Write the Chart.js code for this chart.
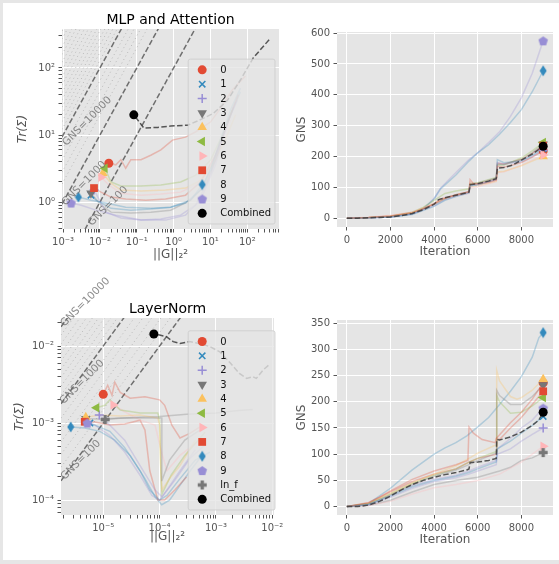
<!DOCTYPE html>
<html>
<head>
<meta charset="utf-8">
<title>GNS per layer</title>
<script src="https://cdn.jsdelivr.net/npm/chart.js@4.4.1/dist/chart.umd.min.js"></script>
<style>
  html, body { margin: 0; padding: 0; background: #e6e6e6; width: 559px; height: 564px; overflow: hidden; }
  #sheet { position: absolute; left: 3px; top: 3px; width: 556px; height: 557px; background: #fff; }
  canvas { position: absolute; left: 0; top: 0; }
</style>
</head>
<body>
<div id="sheet"></div>
<canvas id="mlpCurve" width="559" height="564"></canvas>
<canvas id="mlpIter" width="559" height="564"></canvas>
<canvas id="lnCurve" width="559" height="564"></canvas>
<canvas id="lnIter" width="559" height="564"></canvas>
<script>
Chart.defaults.font.family = "'DejaVu Sans', sans-serif";

const FIG_W = 559, FIG_H = 564;
const palette = ['#E24A33', '#348ABD', '#988ED5', '#777777', '#FBC15E', '#8EBA42', '#FFB5B8'];
const layerNames = ['0', '1', '2', '3', '4', '5', '6', '7', '8', '9'];
const layerMarkers = ['o', 'x', '+', 'v', '^', '<', '>', 's', 'd', 'p'];

// ---- MLP and Attention: Tr(Sigma) vs ||G||^2, one path per layer, last point = end of training
const mlpPaths = [
  [[89,76],[39,47],[18.6,25],[10,15.6],[3.9,11.1],[2.1,9.3],[0.93,8.4],[0.45,6.0],[0.24,5.0],[0.13,4.3],[0.069,4.3],[0.05,3.2],[0.037,4.3],[0.027,3.6],[0.0174,3.8]],
  [[65,50],[35,23.6],[18.6,8.4],[10,3.0],[5.4,1.52],[2.1,0.97],[0.83,0.84],[0.24,0.79],[0.069,0.76],[0.020,0.81],[0.0078,1.07],[0.0057,1.27]],
  [[54,33],[31,16.7],[16.4,6.0],[8.8,2.1],[3.9,0.90],[1.55,0.64],[0.45,0.56],[0.13,0.54],[0.037,0.58],[0.0145,0.71],[0.0069,1.52]],
  [[42,26],[25,11.8],[13.7,4.2],[7.3,1.8],[2.9,1.07],[0.83,0.76],[0.24,0.71],[0.069,0.69],[0.020,0.71],[0.0107,0.90],[0.0057,1.36]],
  [[48,20],[25,8.4],[11.3,3.6],[5.4,2.1],[2.1,1.62],[0.61,1.52],[0.13,1.46],[0.037,1.52],[0.020,1.9],[0.012,2.7]],
  [[39,23.6],[21,10],[10,4.2],[3.9,2.5],[1.55,2.0],[0.45,1.8],[0.13,1.74],[0.037,1.74],[0.020,2.0],[0.0136,3.2]],
  [[35,16.7],[18.6,7.1],[8.8,3.0],[3.9,1.8],[1.55,1.41],[0.45,1.32],[0.13,1.27],[0.037,1.36],[0.0175,1.8],[0.0107,2.35]],
  [[57,40],[31,16.7],[13.7,5.0],[5.4,2.0],[2.1,1.27],[0.61,1.11],[0.175,1.07],[0.050,1.11],[0.020,1.19],[0.0107,1.41],[0.0069,1.62]],
  [[65,44],[35,20],[16.4,6.4],[7.3,2.1],[2.9,1.07],[0.83,0.84],[0.24,0.81],[0.050,0.84],[0.0145,0.97],[0.0057,1.07],[0.0026,1.19]],
  [[48,31],[25,11.8],[13.7,3.6],[5.4,1.07],[2.1,0.64],[0.61,0.54],[0.13,0.54],[0.027,0.64],[0.0078,0.76],[0.0031,0.90],[0.00165,0.97]]
];
const mlpCombinedPath = [[390,263],[145,141],[65,66],[29,33],[12,21],[5.4,17],[2.4,14],[0.83,13.6],[0.37,13],[0.155,12.7],[0.13,14.5],[0.083,20]];

// ---- MLP and Attention: GNS vs iteration
const mlpGns = [
  [[0,0],[1000,2],[2000,7],[3000,18],[3500,30],[4000,46],[4300,62],[5000,75],[5600,85],[5650,125],[5800,112],[6000,110],[6500,116],[6850,124],[6900,168],[7200,165],[8000,180],[8500,198],[9000,218]],
  [[0,0],[1000,1],[2000,4],[3000,12],[4000,38],[4500,58],[5000,70],[5600,82],[5650,105],[6000,108],[6850,126],[6900,190],[7200,180],[8000,186],[8500,204],[9000,225]],
  [[0,0],[1000,1],[2000,4],[3000,13],[4000,40],[4500,60],[5000,72],[5600,83],[5650,104],[6000,108],[6850,124],[6900,180],[7200,176],[8000,183],[8500,200],[9000,220]],
  [[0,0],[1000,1],[2000,5],[3000,15],[4000,44],[4500,64],[5000,76],[5600,86],[5650,110],[6000,113],[6850,130],[6900,175],[7200,174],[8000,190],[8500,212],[9000,240]],
  [[0,0],[1000,2],[2000,6],[3000,17],[4000,47],[4500,63],[5000,74],[5600,84],[5650,102],[6000,106],[6850,120],[6900,150],[7200,152],[8000,170],[8500,185],[9000,200]],
  [[0,0],[1000,2],[2000,6],[3000,19],[3500,35],[4000,58],[4500,80],[5000,88],[5600,95],[5650,112],[6000,115],[6850,132],[6900,172],[7200,172],[8000,195],[8500,218],[9000,245]],
  [[0,0],[1000,3],[2000,9],[3000,20],[4000,48],[4500,62],[5000,72],[5600,80],[5650,98],[6000,102],[6850,118],[6900,148],[7200,150],[8000,172],[8500,188],[9000,205]],
  [[0,0],[1000,2],[2000,6],[3000,17],[4000,46],[4500,64],[5000,76],[5600,86],[5650,112],[6000,112],[6850,128],[6900,178],[7200,176],[8000,190],[8500,210],[9000,235]],
  [[0,0],[1000,1],[2000,4],[3000,14],[3500,30],[4000,62],[4300,95],[5000,140],[5600,185],[6000,212],[6500,238],[7000,272],[7500,310],[8000,352],[8500,410],[9000,478]],
  [[0,0],[1000,1],[2000,4],[3000,14],[3500,30],[4000,64],[4300,98],[5000,148],[5600,190],[6000,212],[6500,245],[7000,280],[7500,330],[8000,390],[8500,470],[9000,575]]
];
const mlpGnsCombined = [[0,0],[500,0],[1000,1],[1500,2],[2000,4],[2500,8],[3000,15],[3500,27],[4000,45],[4200,60],[4500,66],[5000,74],[5500,82],[5600,85],[5650,108],[6000,112],[6500,120],[6850,128],[6900,162],[7200,164],[7600,172],[8000,188],[8500,208],[9000,233]];

// ---- LayerNorm: Tr(Sigma) vs ||G||^2
const lnPaths = [
  [[5.2e-4,8.9e-4],[3.5e-4,7.4e-4],[2.3e-4,6.4e-4],[1.65e-4,9.4e-4],[1.23e-4,1.7e-3],[1.0e-4,2.0e-3],[5.5e-5,2.2e-3],[3.0e-5,2.1e-3],[2.0e-5,2.5e-3],[1.6e-5,3.4e-3],[1.43e-5,2.3e-3],[1.2e-5,3.1e-3],[1.0e-5,2.36e-3]],
  [[7.8e-4,4.2e-4],[4.3e-4,3.3e-4],[2.3e-4,1.9e-4],[1.35e-4,1.15e-4],[1.0e-4,1.0e-4],[6.7e-5,1.35e-4],[4.5e-5,2.4e-4],[2.4e-5,4.8e-4],[1.31e-5,7.8e-4],[7.1e-6,9.4e-4],[5.8e-6,1.0e-3]],
  [[6.4e-4,5.2e-4],[3.5e-4,3.5e-4],[1.86e-4,1.8e-4],[1.1e-4,1.1e-4],[8.3e-5,1.35e-4],[4.5e-5,2.8e-4],[2.4e-5,6.0e-4],[1.31e-5,9.4e-4],[8.5e-6,1.27e-3]],
  [[5.2e-4,8.1e-4],[2.8e-4,6.0e-4],[1.5e-4,3.3e-4],[1.1e-4,1.8e-4],[1.1e-4,8.1e-4],[1.09e-4,1.16e-3],[4.5e-5,1.16e-3],[2.0e-5,1.16e-3],[8.7e-6,1.13e-3],[4.9e-6,1.14e-3]],
  [[4.3e-4,6.0e-4],[2.3e-4,2.8e-4],[1.5e-4,1.9e-4],[1.1e-4,1.35e-4],[1.05e-4,2.4e-4],[1.0e-4,9.4e-4],[9.3e-5,1.16e-3],[4.5e-5,1.27e-3],[2.0e-5,1.23e-3],[8.7e-6,1.27e-3],[4.9e-6,1.19e-3]],
  [[6.4e-4,7.6e-4],[2.8e-4,3.8e-4],[1.6e-4,2.1e-4],[1.1e-4,1.2e-4],[1.05e-4,2.4e-4],[1.0e-4,1.09e-3],[9.3e-5,1.35e-3],[4.5e-5,1.35e-3],[2.0e-5,1.48e-3],[1.31e-5,2.0e-3],[1.07e-5,1.7e-3],[7.6e-6,1.58e-3]],
  [[5.2e-4,6.0e-4],[2.3e-4,3.8e-4],[1.35e-4,2.4e-4],[1.1e-4,4.0e-4],[8.3e-5,9.4e-4],[4.5e-5,1.09e-3],[2.4e-5,1.4e-3],[1.6e-5,1.7e-3],[1.5e-5,1.72e-3]],
  [[3.0e-4,2.0e-4],[1.86e-4,1.35e-4],[1.23e-4,1.0e-4],[9.3e-5,1.0e-4],[6.7e-5,2.4e-4],[5.5e-5,8.1e-4],[4.5e-5,1.09e-3],[2.4e-5,9.7e-4],[1.31e-5,9.4e-4],[7.1e-6,1.03e-3],[4.7e-6,1.04e-3]],
  [[5.2e-4,3.5e-4],[3.5e-4,2.4e-4],[2.3e-4,1.55e-4],[1.5e-4,1.0e-4],[1.09e-4,8.7e-5],[8.3e-5,1.1e-4],[5.5e-5,1.9e-4],[3.0e-5,3.8e-4],[1.6e-5,6.0e-4],[8.7e-6,7.8e-4],[4.7e-6,8.6e-4],[2.65e-6,8.9e-4]],
  [[4.3e-4,4.5e-4],[2.3e-4,2.4e-4],[1.35e-4,1.35e-4],[1.0e-4,1.0e-4],[7.3e-5,1.15e-4],[4.5e-5,2.1e-4],[2.4e-5,4.2e-4],[1.31e-5,6.9e-4],[7.1e-6,9.4e-4],[5.2e-6,1.0e-3]]
];
const lnFinalPath = [[4.5e-3,1.5e-3],[2.5e-3,1.45e-3],[1.0e-3,1.35e-3],[3.0e-4,1.3e-3],[1.0e-4,1.22e-3],[5.0e-5,1.2e-3],[2.0e-5,1.15e-3],[1.08e-5,1.11e-3]];
const lnCombinedPath = [[8.5e-3,5.6e-3],[6.9e-3,4.9e-3],[5.2e-3,3.8e-3],[4.5e-3,4.0e-3],[3.5e-3,3.8e-3],[2.6e-3,4.4e-3],[1.8e-3,6.0e-3],[1.17e-3,8.4e-3],[7.8e-4,9.8e-3],[5.1e-4,1.08e-2],[3.4e-4,1.14e-2],[2.3e-4,1.08e-2],[1.74e-4,1.14e-2],[1.32e-4,1.32e-2],[1.0e-4,1.39e-2],[7.9e-5,1.43e-2]];

// ---- LayerNorm: GNS vs iteration
const lnGns = [
  [[0,0],[1000,8],[1500,18],[2000,30],[3000,52],[4000,68],[5000,80],[5550,88],[5600,152],[5800,140],[6200,128],[6800,122],[6850,130],[7500,160],[8000,180],[8500,205],[9000,236]],
  [[0,0],[1000,4],[2000,20],[3000,38],[4000,50],[5000,58],[5600,65],[6000,72],[6850,85],[6900,110],[7500,125],[8000,140],[8500,155],[9000,172]],
  [[0,0],[1000,3],[2000,18],[3000,35],[4000,48],[5000,55],[5600,62],[6000,68],[6850,80],[6900,100],[7500,110],[8000,125],[8500,138],[9000,150]],
  [[0,0],[1000,5],[2000,22],[3000,42],[4000,58],[5000,70],[5600,80],[6000,88],[6850,102],[6870,222],[7000,212],[7500,195],[8000,195],[8500,210],[9000,232]],
  [[0,0],[1000,6],[2000,25],[3000,45],[4000,62],[5000,78],[5600,92],[6000,102],[6850,118],[6870,260],[7000,240],[7500,210],[7800,205],[8000,208],[8500,222],[9000,243]],
  [[0,0],[1000,6],[2000,24],[3000,44],[4000,60],[5000,72],[5600,85],[6000,92],[6850,105],[6870,212],[7000,200],[7500,178],[8000,180],[8500,192],[9000,208]],
  [[0,0],[1000,2],[2000,10],[3000,24],[4000,36],[5000,42],[6000,50],[7000,62],[8000,85],[8500,100],[9000,115]],
  [[0,0],[1000,7],[2000,28],[3000,48],[4000,62],[5000,72],[5600,85],[6000,92],[6850,100],[6870,130],[7000,128],[7500,150],[8000,170],[8500,195],[9000,220]],
  [[0,0],[1000,6],[2000,35],[3000,70],[4000,100],[4500,112],[5000,122],[5500,135],[6000,152],[6500,170],[7000,195],[7500,220],[8000,248],[8500,285],[8800,322],[9000,332]],
  [[0,0],[1000,4],[2000,22],[3000,40],[4000,52],[5000,60],[5600,68],[6000,75],[6850,88],[6900,110],[7500,130],[8000,150],[8500,165],[9000,188]]
];
const lnGnsFinal = [[0,0],[1000,2],[2000,12],[3000,28],[4000,42],[5000,50],[6000,56],[7000,68],[7500,75],[8000,88],[8500,93],[9000,103]];
const lnGnsCombined = [[0,0],[500,0],[1000,3],[1500,10],[2000,20],[2500,32],[3000,42],[3500,50],[4000,56],[4500,61],[5000,65],[5500,70],[5600,72],[5650,84],[6000,85],[6500,88],[6850,92],[6870,128],[7000,127],[7500,133],[8000,142],[8500,155],[8800,165],[9000,180]];

// ---- constant-GNS guide lines and axis ticks
const gnsMarked = [100, 1000, 10000];
const mlpGnsDotted = [2000, 3000, 4500, 6500, 13000, 17000, 22000, 28000, 36000, 46000, 60000, 78000, 100000, 130000, 170000, 220000, 290000, 380000];
const lnGnsDotted = [150, 220, 320, 460, 650, 1300, 1700, 2200, 2800, 3600, 4600, 6000, 7800, 10000, 13000];
const mlpGnsLabels = [{text: 'GNS=10000', x: 0.0045, y: 16}, {text: 'GNS=1000', x: 0.0037, y: 1.9}, {text: 'GNS=100', x: 0.0165, y: 0.87}];
const lnGnsLabels = [{text: 'GNS=10000', x: 4.8e-6, y: 3.7e-2}, {text: 'GNS=1000', x: 4.2e-6, y: 3.4e-3}, {text: 'GNS=100', x: 4.0e-6, y: 3.3e-4}];
const iterTicks = [0, 2000, 4000, 6000, 8000];
const mlpGnsTicks = [0, 100, 200, 300, 400, 500, 600];
const lnGnsTicks = [0, 50, 100, 150, 200, 250, 300, 350];

function rgba(hex, a) {
  const n = parseInt(hex.slice(1), 16);
  return 'rgba(' + (n >> 16) + ',' + ((n >> 8) & 255) + ',' + (n & 255) + ',' + a + ')';
}

function shapeCanvas(kind, color) {
  const c = document.createElement('canvas');
  c.width = kind === 'd' ? 8 : 11;
  c.height = kind === 'd' ? 12 : 11;
  const g = c.getContext('2d');
  g.fillStyle = color;
  g.beginPath();
  if (kind === 'd') {
    g.moveTo(4, 0.5); g.lineTo(7.5, 6); g.lineTo(4, 11.5); g.lineTo(0.5, 6);
  } else if (kind === 'p') {
    for (let k = 0; k < 5; k++) {
      const a = -Math.PI / 2 + k * 2 * Math.PI / 5;
      const px = 5.5 + 5 * Math.cos(a), py = 5.9 + 5 * Math.sin(a);
      if (k) g.lineTo(px, py); else g.moveTo(px, py);
    }
  } else {
    const pts = [[3.8,1],[7.2,1],[7.2,3.8],[10,3.8],[10,7.2],[7.2,7.2],[7.2,10],[3.8,10],[3.8,7.2],[1,7.2],[1,3.8],[3.8,3.8]];
    pts.forEach((p, k) => k ? g.lineTo(p[0], p[1]) : g.moveTo(p[0], p[1]));
  }
  g.closePath();
  g.fill();
  return c;
}

function markerOpts(kind, color) {
  switch (kind) {
    case 'o': return {pointStyle: 'circle', rotation: 0, radius: 4.5, borderWidth: 0};
    case 'x': return {pointStyle: 'crossRot', rotation: 0, radius: 4.5, borderWidth: 1.5};
    case '+': return {pointStyle: 'cross', rotation: 0, radius: 4.5, borderWidth: 1.5};
    case 'v': return {pointStyle: 'triangle', rotation: 180, radius: 5.5, borderWidth: 0};
    case '^': return {pointStyle: 'triangle', rotation: 0, radius: 5.5, borderWidth: 0};
    case '<': return {pointStyle: 'triangle', rotation: -90, radius: 5.5, borderWidth: 0};
    case '>': return {pointStyle: 'triangle', rotation: 90, radius: 5.5, borderWidth: 0};
    case 's': return {pointStyle: 'rect', rotation: 0, radius: 5.5, borderWidth: 0};
    default: return {pointStyle: shapeCanvas(kind, color), rotation: 0, radius: 5, borderWidth: 0};
  }
}

function toXY(points) { return points.map(p => ({x: p[0], y: p[1]})); }

function traceSet(points, color, order) {
  return {data: toXY(points), showLine: true, borderColor: rgba(color, 0.3), borderWidth: 1.5,
          pointRadius: 0, pointHoverRadius: 0, tension: 0, order: order, clip: 0};
}

function dashedSet(points, order) {
  return {data: toXY(points), showLine: true, borderColor: 'rgba(60,60,60,0.85)', borderWidth: 1.5,
          borderDash: [5.5, 2.4], pointRadius: 0, pointHoverRadius: 0, tension: 0, order: order, clip: 0};
}

function markerSet(point, kind, color, order) {
  const m = markerOpts(kind, color);
  return {data: [{x: point[0], y: point[1]}], showLine: false, order: order,
          pointStyle: m.pointStyle, pointRotation: m.rotation, pointRadius: m.radius, pointHoverRadius: m.radius,
          pointBackgroundColor: color, pointBorderColor: color, pointBorderWidth: m.borderWidth,
          pointHoverBorderWidth: m.borderWidth, clip: false};
}

function guideSet(level, xr, dotted) {
  return {data: [{x: xr[0], y: level * xr[0]}, {x: xr[1], y: level * xr[1]}], showLine: true,
          borderColor: dotted ? 'rgba(150,150,150,0.55)' : 'rgba(80,80,80,0.8)',
          borderWidth: dotted ? 1 : 1.5, borderDash: dotted ? [1, 3] : [5.5, 2.4],
          pointRadius: 0, pointHoverRadius: 0, order: dotted ? 40 : 30, clip: 0};
}

const last = arr => arr[arr.length - 1];

function layerDatasets(paths, extra, combined) {
  const sets = [];
  paths.forEach((p, i) => {
    const c = palette[i % palette.length];
    sets.push(traceSet(p, c, 20));
    sets.push(markerSet(last(p), layerMarkers[i], c, 10 - i * 0.5));
  });
  if (extra) {
    sets.push(traceSet(extra, '#777777', 20));
    sets.push(markerSet(last(extra), 'P', '#777777', 4.5));
  }
  sets.push(dashedSet(combined, 15));
  sets.push(markerSet(last(combined), 'o', '#000000', 0));
  return sets;
}

function legendEntries(withFinal) {
  const e = layerNames.map((n, i) => ({label: n, kind: layerMarkers[i], color: palette[i % palette.length]}));
  if (withFinal) e.push({label: 'ln_f', kind: 'P', color: '#777777'});
  e.push({label: 'Combined', kind: 'o', color: '#000000'});
  return e;
}

const supMap = {'-': '\u207B', '0': '\u2070', '1': '\u00B9', '2': '\u00B2', '3': '\u00B3', '4': '\u2074', '5': '\u2075', '6': '\u2076', '7': '\u2077', '8': '\u2078', '9': '\u2079'};
function powLabel(v) {
  const e = Math.round(Math.log10(v));
  return '10' + String(e).split('').map(ch => supMap[ch]).join('');
}

function logTicks(min, max) {
  const ticks = [];
  for (let e = Math.floor(Math.log10(min)); e <= Math.ceil(Math.log10(max)); e++) {
    for (let m = 1; m < 10; m++) {
      const v = m * Math.pow(10, e);
      if (v >= min && v <= max) ticks.push({value: v, major: m === 1});
    }
  }
  return ticks;
}

const panelBg = {
  id: 'panelBg',
  beforeDraw(chart) {
    const a = chart.chartArea, ctx = chart.ctx;
    ctx.save();
    ctx.fillStyle = '#E5E5E5';
    ctx.fillRect(a.left, a.top, a.right - a.left, a.bottom - a.top);
    ctx.restore();
  }
};

const gnsText = {
  id: 'gnsText',
  afterDatasetsDraw(chart, args, opts) {
    const ctx = chart.ctx;
    (opts.items || []).forEach(it => {
      const x = chart.scales.x.getPixelForValue(it.x), y = chart.scales.y.getPixelForValue(it.y);
      ctx.save();
      ctx.translate(x, y);
      ctx.rotate(-Math.PI / 4);
      ctx.font = "10.5px 'DejaVu Sans'";
      ctx.fillStyle = 'rgba(110,110,110,0.8)';
      ctx.textAlign = 'center';
      ctx.textBaseline = 'middle';
      ctx.fillText(it.text, 0, 0);
      ctx.restore();
    });
  }
};

const sideLegend = {
  id: 'sideLegend',
  afterDatasetsDraw(chart, args, opts) {
    const entries = opts.entries;
    if (!entries) return;
    const ctx = chart.ctx, rowH = 14.35;
    ctx.save();
    ctx.font = "10px 'DejaVu Sans'";
    const tw = Math.max.apply(null, entries.map(e => ctx.measureText(e.label).width));
    const w = 4 + 20 + 8 + tw + 4, h = entries.length * rowH + 7;
    const right = opts.right, bottom = opts.bottom, left = right - w, top = bottom - h;
    ctx.beginPath();
    ctx.roundRect(left, top, w, h, 2);
    ctx.fillStyle = 'rgba(229,229,229,0.8)';
    ctx.fill();
    ctx.strokeStyle = 'rgba(204,204,204,0.8)';
    ctx.lineWidth = 1;
    ctx.stroke();
    entries.forEach((e, i) => {
      const y = top + 3.5 + rowH * (i + 0.5);
      const m = markerOpts(e.kind, e.color);
      ctx.fillStyle = e.color;
      ctx.strokeStyle = e.color;
      ctx.lineWidth = m.borderWidth;
      Chart.helpers.drawPoint(ctx, {pointStyle: m.pointStyle, rotation: m.rotation, radius: m.radius, borderWidth: m.borderWidth}, left + 14, y);
      ctx.fillStyle = '#111';
      ctx.textAlign = 'left';
      ctx.textBaseline = 'middle';
      ctx.fillText(e.label, left + 32, y + 0.5);
    });
    ctx.restore();
  }
};

function axis(p, which) {
  const isX = which === 'x';
  const r = isX ? p.xRange : p.yRange;
  const log = isX ? p.xLog : p.yLog;
  const vals = isX ? p.xTicks : p.yTicks;
  return {
    type: log ? 'logarithmic' : 'linear',
    min: r[0], max: r[1],
    afterBuildTicks: s => { s.ticks = log ? logTicks(r[0], r[1]) : vals.map(v => ({value: v, major: true})); },
    afterFit: s => {
      if (isX) s.height = FIG_H - p.area.b; else s.width = p.area.l;
      s.paddingLeft = 0; s.paddingRight = 0; s.paddingTop = 0; s.paddingBottom = 0;
    },
    ticks: {
      autoSkip: false, maxRotation: 0, minRotation: 0, color: '#555555', font: {size: 10}, padding: 3.5,
      callback: (v, i, ts) => (ts[i] && ts[i].major) ? (log ? powLabel(v) : String(v)) : ''
    },
    grid: {
      color: c => (c.tick && c.tick.major) ? '#ffffff' : 'rgba(0,0,0,0)',
      lineWidth: 1, tickColor: '#555555', tickLength: 3.5, tickWidth: 1
    },
    border: {display: false},
    title: {
      display: true, text: isX ? p.xTitle : p.yTitle, color: '#555555',
      font: {size: 12, style: (!isX && p.yItalic) ? 'italic' : 'normal'},
      padding: isX ? {top: 0, bottom: FIG_H - p.xTitleY - 7.2} : {top: p.yTitleX - 7.2, bottom: 0}
    }
  };
}

function makePanel(id, p) {
  new Chart(document.getElementById(id), {
    type: 'scatter',
    data: {datasets: p.datasets},
    options: {
      responsive: false, animation: false, events: [],
      layout: {padding: {left: 0, right: FIG_W - p.area.r, top: p.title ? 0 : p.area.t, bottom: 0}},
      plugins: {
        legend: {display: false},
        tooltip: {enabled: false},
        title: p.title ? {display: true, text: p.title, color: '#000000', fullSize: false,
          font: {size: 14, weight: 'normal'},
          padding: {top: p.titleY - 8.4, bottom: Math.max(0, p.area.t - p.titleY - 8.4)}} : {display: false},
        sideLegend: p.legend ? {entries: p.legend, right: 275, bottom: p.area.b - 5} : {},
        gnsText: {items: p.labels || []}
      },
      scales: {x: axis(p, 'x'), y: axis(p, 'y')}
    },
    plugins: [panelBg, gnsText, sideLegend]
  });
}

const mlpX = [0.000933, 724], mlpY = [0.398, 380];
const lnX = [1.78e-6, 1.07e-2], lnY = [6.4e-5, 2.31e-2];

makePanel('mlpCurve', {
  area: {l: 62, t: 29, r: 279, b: 229}, title: 'MLP and Attention', titleY: 20.6,
  xLog: true, yLog: true, xRange: mlpX, yRange: mlpY,
  xTitle: '||G||\u2082\u00B2', yTitle: 'Tr(\u03A3)', yItalic: true, xTitleY: 255, yTitleX: 23,
  datasets: layerDatasets(mlpPaths, null, mlpCombinedPath)
    .concat(gnsMarked.map(g => guideSet(g, mlpX, false)))
    .concat(mlpGnsDotted.map(g => guideSet(g, mlpX, true))),
  legend: legendEntries(false), labels: mlpGnsLabels
});

makePanel('mlpIter', {
  area: {l: 337, t: 32, r: 554, b: 227},
  xLog: false, yLog: false, xRange: [-450, 9450], yRange: [-28.75, 603.75], xTicks: iterTicks, yTicks: mlpGnsTicks,
  xTitle: 'Iteration', yTitle: 'GNS', xTitleY: 252, yTitleX: 301.7,
  datasets: layerDatasets(mlpGns, null, mlpGnsCombined)
});

makePanel('lnCurve', {
  area: {l: 61, t: 318, r: 274, b: 515}, title: 'LayerNorm', titleY: 309,
  xLog: true, yLog: true, xRange: lnX, yRange: lnY,
  xTitle: '||G||\u2082\u00B2', yTitle: 'Tr(\u03A3)', yItalic: true, xTitleY: 537, yTitleX: 20,
  datasets: layerDatasets(lnPaths, lnFinalPath, lnCombinedPath)
    .concat(gnsMarked.map(g => guideSet(g, lnX, false)))
    .concat(lnGnsDotted.map(g => guideSet(g, lnX, true))),
  legend: legendEntries(true), labels: lnGnsLabels
});

makePanel('lnIter', {
  area: {l: 337, t: 320, r: 554, b: 515},
  xLog: false, yLog: false, xRange: [-450, 9450], yRange: [-16, 356], xTicks: iterTicks, yTicks: lnGnsTicks,
  xTitle: 'Iteration', yTitle: 'GNS', xTitleY: 540, yTitleX: 301.7,
  datasets: layerDatasets(lnGns, lnGnsFinal, lnGnsCombined)
});
</script>
</body>
</html>
